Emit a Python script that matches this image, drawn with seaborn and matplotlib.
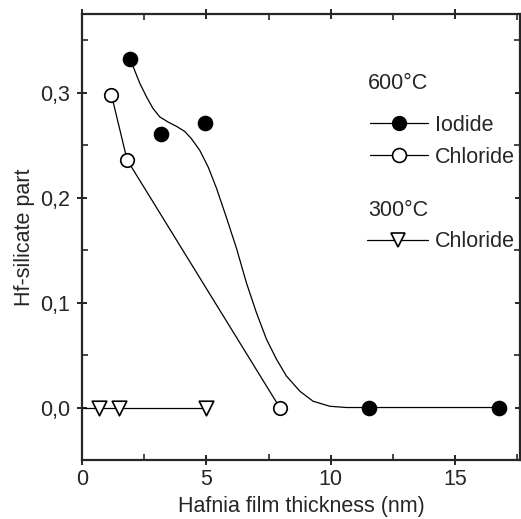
import numpy as np
import pandas as pd
import seaborn as sns
import matplotlib.pyplot as plt
from matplotlib.lines import Line2D
from matplotlib.ticker import MultipleLocator, FuncFormatter

# measured points
iodide_600_x = [1.93, 3.2, 4.95, 11.55, 16.75]
iodide_600_y = [0.332, 0.261, 0.271, 0.0, 0.0]
chloride_600_x = [1.19, 1.82, 7.95]
chloride_600_y = [0.298, 0.236, 0.0]
chloride_300_x = [0.7, 1.5, 5.0]
chloride_300_y = [0.0, 0.0, 0.0]

# hand-drawn guide curves
iodide_guide_x = [1.93, 2.06, 2.33, 2.6, 2.86, 3.13, 3.47, 3.8, 4.14, 4.41, 4.74, 5.08, 5.41, 5.81,
                  6.21, 6.61, 7.02, 7.42, 7.82, 8.22, 8.76, 9.29, 9.96, 10.63, 11.3, 16.75]
iodide_guide_y = [0.332, 0.325, 0.309, 0.296, 0.285, 0.277, 0.272, 0.268, 0.263, 0.256, 0.245, 0.229,
                  0.209, 0.181, 0.152, 0.119, 0.090, 0.065, 0.046, 0.030, 0.0155, 0.006, 0.0012,
                  0.0, 0.0, 0.0]
chloride_300_guide_x = [0.0, 5.0]
chloride_300_guide_y = [0.0, 0.0]

sns.set_style("ticks")
plt.rcParams['font.family'] = ['Liberation Sans', 'DejaVu Sans']
fs = 15.5

fig = plt.figure(figsize=(5.21, 5.19), dpi=100)
ax = fig.add_axes([0.157, 0.1137, 0.841, 0.8593])

lw = 0.9
sns.lineplot(x=iodide_guide_x, y=iodide_guide_y, sort=False, color='black', lw=lw, ax=ax, zorder=1)
sns.lineplot(x=chloride_600_x, y=chloride_600_y, sort=False, color='black', lw=lw, ax=ax, zorder=1)
sns.lineplot(x=chloride_300_guide_x, y=chloride_300_guide_y, sort=False, color='black', lw=lw, ax=ax, zorder=1)

sns.scatterplot(x=iodide_600_x, y=iodide_600_y, marker='o', s=105, color='black',
                edgecolor='black', linewidth=1, ax=ax, zorder=3)
sns.scatterplot(x=chloride_600_x, y=chloride_600_y, marker='o', s=95, color='white',
                edgecolor='black', linewidth=1.2, ax=ax, zorder=3)
sns.scatterplot(x=chloride_300_x, y=chloride_300_y, marker='v', s=110, color='white',
                edgecolor='black', linewidth=1.2, ax=ax, zorder=3)

ax.set_xlim(0, 17.6)
ax.set_ylim(-0.05, 0.375)
ax.xaxis.set_major_locator(MultipleLocator(5))
ax.xaxis.set_minor_locator(MultipleLocator(2.5))
ax.yaxis.set_major_locator(MultipleLocator(0.1))
ax.yaxis.set_minor_locator(MultipleLocator(0.05))
ax.yaxis.set_major_formatter(FuncFormatter(lambda v, p: f"{v:.1f}".replace('.', ',').replace('-', '')))
ax.xaxis.set_major_formatter(FuncFormatter(lambda v, p: f"{v:g}"))

for s in ax.spines.values():
    s.set_visible(True)
    s.set_linewidth(1.6)
ax.tick_params(which='major', direction='inout', length=7, width=1.4, top=True, right=True,
               labelsize=fs, pad=5)
ax.tick_params(axis='x', which='major', pad=3)
ax.tick_params(which='minor', direction='in', length=4, width=1.2, top=True, right=True)

ax.set_xlabel('Hafnia film thickness (nm)', fontsize=fs, labelpad=4)
ax.set_ylabel('Hf-silicate part', fontsize=fs, labelpad=3.5)

# legend blocks
ax.text(0.653, 0.845, '600°C', transform=ax.transAxes, fontsize=fs, va='center', ha='left')
ax.text(0.653, 0.56, '300°C', transform=ax.transAxes, fontsize=fs, va='center', ha='left')

h_iod = Line2D([], [], color='black', lw=lw, marker='o', markersize=10, markerfacecolor='black')
h_chl = Line2D([], [], color='black', lw=lw, marker='o', markersize=10, markerfacecolor='white',
               markeredgewidth=1.2)
h_tri = Line2D([], [], color='black', lw=lw, marker='v', markersize=10, markerfacecolor='white',
               markeredgewidth=1.2)

leg1 = ax.legend([h_iod, h_chl], ['Iodide', 'Chloride'], loc='upper left',
                 bbox_to_anchor=(0.658, 0.7735), frameon=False, fontsize=fs, handlelength=2.7,
                 handletextpad=0.3, labelspacing=0.5, borderpad=0, borderaxespad=0)
ax.add_artist(leg1)
ax.legend([h_tri], ['Chloride'], loc='upper left', bbox_to_anchor=(0.651, 0.513),
          frameon=False, fontsize=fs, handlelength=2.84, handletextpad=0.3,
          borderpad=0, borderaxespad=0)

fig.savefig('out.png', dpi=100)
